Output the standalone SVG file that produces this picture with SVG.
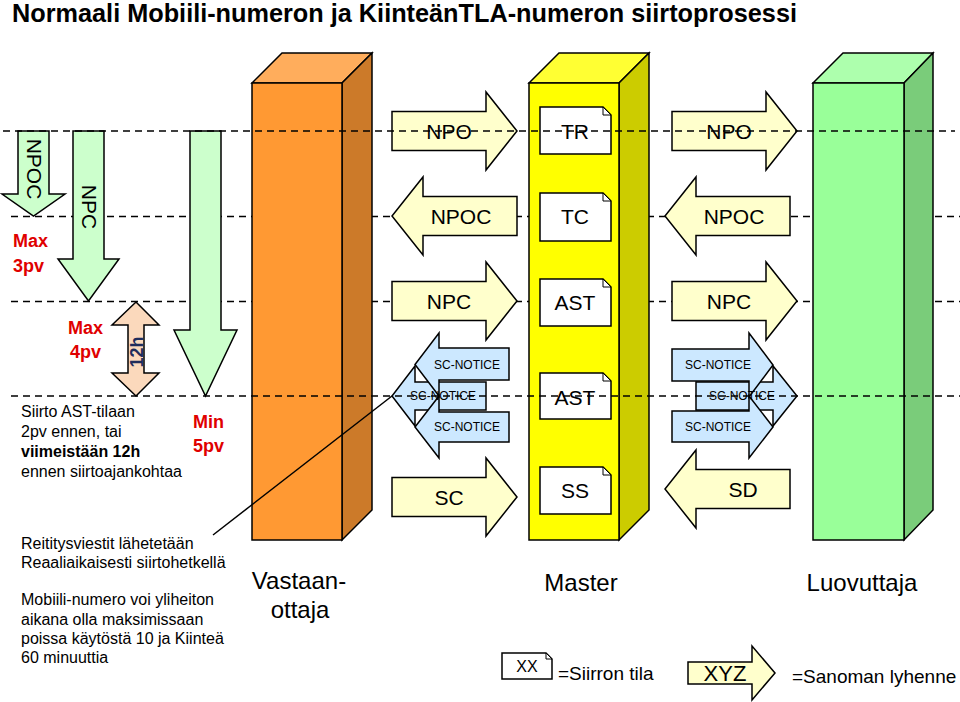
<svg xmlns="http://www.w3.org/2000/svg" width="960" height="702" viewBox="0 0 960 702">
<style>
text{font-family:"Liberation Sans",Arial,sans-serif;fill:#000}
.dash{stroke:#000;stroke-width:1.6;stroke-dasharray:7 5;fill:none}
.ln{stroke:#000;stroke-width:1.5;fill:none}
.g{fill:#CCFFCC;stroke:#000;stroke-width:1.5}
.y{fill:#FFFFCC;stroke:#000;stroke-width:1.5}
.b{fill:#CCE8FF;stroke:#000;stroke-width:1.5}
.box{fill:#fff;stroke:#000;stroke-width:1.5}
.fold{fill:#fff;stroke:#000;stroke-width:1}
.red{fill:#E00000;font-weight:bold;font-size:18px}
.msg{font-size:21px;text-anchor:middle}
.st{font-size:21px;text-anchor:middle}
.sn{font-size:12px;text-anchor:middle}
.t16{font-size:16px}
.big{font-size:24px;text-anchor:middle}
.col{stroke:#000;stroke-width:1.5}
</style>
<rect width="960" height="702" fill="#fff"/>
<text x="12" y="22" font-size="25" font-weight="bold" textLength="785" lengthAdjust="spacingAndGlyphs">Normaali Mobiili-numeron ja KiinteänTLA-numeron siirtoprosessi</text>

<g id="guides-back">
<line class="dash" x1="11" y1="216.5" x2="960" y2="216.5"/>
<line class="dash" x1="11" y1="301.5" x2="960" y2="301.5"/>
</g>

<g id="col-vastaanottaja">
<polygon class="col" fill="#FFAD5C" points="252,83 282,53 372,53 342,83"/>
<polygon class="col" fill="#CC7A29" points="342,83 372,53 372,510 342,540"/>
<rect class="col" fill="#FF9933" x="252" y="83" width="90" height="457"/>
</g>
<g id="col-master">
<polygon class="col" fill="#FFFF33" points="529,83 559,53 649,53 619,83"/>
<polygon class="col" fill="#CCCC00" points="619,83 649,53 649,510 619,540"/>
<rect class="col" fill="#FFFF00" x="529" y="83" width="90" height="457"/>
</g>
<g id="col-luovuttaja">
<polygon class="col" fill="#ADFFAD" points="813,83 843,53 933,53 904,83"/>
<polygon class="col" fill="#7ACC7A" points="904,83 933,53 933,510 904,540"/>
<rect class="col" fill="#99FF99" x="813" y="83" width="91" height="457"/>
</g>

<g id="arrow-npoc-time">
<path class="g" d="M18,131 H49 V194 H65 L33.5,216 L2,194 H18 Z"/>
<text transform="translate(26.5,169) rotate(90)" font-size="21" text-anchor="middle">NPOC</text>
</g>
<g id="arrow-npc-time">
<path class="g" d="M73,131 H104 V259 H119 L88.5,301 L58,259 H73 Z"/>
<text transform="translate(81.5,207) rotate(90)" font-size="21" text-anchor="middle">NPC</text>
</g>
<g id="arrow-min5pv">
<path class="g" d="M190,131 H221 V330 H237 L205.5,396 L174,330 H190 Z"/>
</g>
<g id="arrow-12h">
<path d="M136,302 L159,325 H144 V373 H159 L136,396 L112,373 H128 V325 H112 Z" fill="#FBD9BC" stroke="#000" stroke-width="1.5"/>
<text transform="translate(142.5,352) rotate(-90)" font-size="18" font-weight="bold" text-anchor="middle" style="fill:#1F2D5C">12h</text>
</g>

<g id="label-max3pv"><text class="red" x="13" y="247">Max</text><text class="red" x="13" y="272">3pv</text></g>
<g id="label-max4pv"><text class="red" x="68" y="334">Max</text><text class="red" x="70" y="358">4pv</text></g>
<g id="label-min5pv"><text class="red" x="193" y="428">Min</text><text class="red" x="193" y="452">5pv</text></g>
<g id="label-siirto">
<text class="t16" x="21" y="417">Siirto AST-tilaan</text>
<text class="t16" x="21" y="437">2pv ennen, tai</text>
<text class="t16" x="21" y="457" font-weight="bold">viimeistään 12h</text>
<text class="t16" x="21" y="477">ennen siirtoajankohtaa</text>
</g>

<g id="msg-npo-1"><path class="y" d="M392,111.5 H486 V92 L517,131 L486,170 V150.5 H392 Z"/><text class="msg" x="449" y="139">NPO</text></g>
<g id="msg-npoc-1"><path class="y" d="M517,196.5 H423 V177 L392,216 L423,255 V235.5 H517 Z"/><text class="msg" x="461" y="224">NPOC</text></g>
<g id="msg-npc-1"><path class="y" d="M392,281.5 H486 V262 L517,301 L486,340 V320.5 H392 Z"/><text class="msg" x="449" y="309">NPC</text></g>
<g id="msg-sc"><path class="y" d="M392,477.5 H486 V458 L517,497 L486,536 V516.5 H392 Z"/><text class="msg" x="449" y="505">SC</text></g>

<g id="msg-npo-2"><path class="y" d="M672,111.5 H766 V92 L797,131 L766,170 V150.5 H672 Z"/><text class="msg" x="729" y="139">NPO</text></g>
<g id="msg-npoc-2"><path class="y" d="M790,196.5 H696 V177 L665,216 L696,255 V235.5 H790 Z"/><text class="msg" x="734" y="224">NPOC</text></g>
<g id="msg-npc-2"><path class="y" d="M672,281.5 H766 V262 L797,301 L766,340 V320.5 H672 Z"/><text class="msg" x="729" y="309">NPC</text></g>
<g id="msg-sd"><path class="y" d="M790,469.5 H696 V450 L665,489 L696,528 V508.5 H790 Z"/><text class="msg" x="743" y="497">SD</text></g>

<g id="sc-notice-left">
<path class="b" d="M486,382 H415 V366 L392,396 L415,426 V410 H486 Z"/>
<path class="b" d="M509,348 H439 V333 L415,364.5 L439,396 V380 H509 Z"/>
<path class="b" d="M509,412 H439 V396 L415,427 L439,458 V442 H509 Z"/>
<text class="sn" x="467" y="369">SC-NOTICE</text>
<text class="sn" x="443" y="400">SC-NOTICE</text>
<text class="sn" x="467" y="431">SC-NOTICE</text>
</g>
<g id="sc-notice-right">
<path class="b" d="M696,382 H773 V366 L797,396 L773,426 V410 H696 Z"/>
<path class="b" d="M672,349 H749 V333 L773,365 L749,397 V381 H672 Z"/>
<path class="b" d="M672,411 H749 V396 L773,427 L749,458 V442 H672 Z"/>
<text class="sn" x="718" y="369">SC-NOTICE</text>
<text class="sn" x="742" y="400">SC-NOTICE</text>
<text class="sn" x="718" y="431">SC-NOTICE</text>
</g>

<g id="state-tr"><path class="box" d="M540,107 H603 L611,115 V154 H540 Z"/><path class="fold" d="M603,107 V115 H611 Z"/><text class="st" x="575" y="139">TR</text></g>
<g id="state-tc"><path class="box" d="M540,193 H603 L611,201 V241 H540 Z"/><path class="fold" d="M603,193 V201 H611 Z"/><text class="st" x="575" y="224">TC</text></g>
<g id="state-ast-1"><path class="box" d="M540,279 H603 L611,287 V326 H540 Z"/><path class="fold" d="M603,279 V287 H611 Z"/><text class="st" x="575" y="310">AST</text></g>
<g id="state-ast-2"><path class="box" d="M540,373 H603 L611,381 V419 H540 Z"/><path class="fold" d="M603,373 V381 H611 Z"/><text class="st" x="575" y="405">AST</text></g>
<g id="state-ss"><path class="box" d="M540,467 H603 L611,475 V514 H540 Z"/><path class="fold" d="M603,467 V475 H611 Z"/><text class="st" x="575" y="498">SS</text></g>

<g id="connectors">
<line class="dash" x1="3" y1="131" x2="955" y2="131"/>
<line class="dash" x1="11" y1="396" x2="960" y2="396"/>
<line class="ln" x1="213" y1="535" x2="392" y2="396"/>
</g>

<g id="note-reititys">
<text class="t16" x="21" y="549">Reititysviestit lähetetään</text>
<text class="t16" x="21" y="568">Reaaliaikaisesti siirtohetkellä</text>
<text class="t16" x="21" y="605">Mobiili-numero voi yliheiton</text>
<text class="t16" x="21" y="625">aikana olla maksimissaan</text>
<text class="t16" x="21" y="644">poissa käytöstä 10 ja Kiinteä</text>
<text class="t16" x="21" y="663">60 minuuttia</text>
</g>
<g id="label-vastaanottaja"><text class="big" x="299" y="589">Vastaan-</text><text class="big" x="300" y="618">ottaja</text></g>
<g id="label-master"><text class="big" x="581" y="591">Master</text></g>
<g id="label-luovuttaja"><text class="big" x="862" y="591">Luovuttaja</text></g>

<g id="legend">
<path class="box" d="M502,653 H546 L552,659 V679 H502 Z"/><path class="fold" d="M546,653 V659 H552 Z"/>
<text x="527" y="672" font-size="16" text-anchor="middle">XX</text>
<text x="558" y="680" font-size="19">=Siirron tila</text>
<path class="y" d="M688,662 H752 V646 L775,673 L752,700 V684 H688 Z"/>
<text x="725" y="681" font-size="22" text-anchor="middle">XYZ</text>
<text x="792" y="683" font-size="19">=Sanoman lyhenne</text>
</g>
</svg>
